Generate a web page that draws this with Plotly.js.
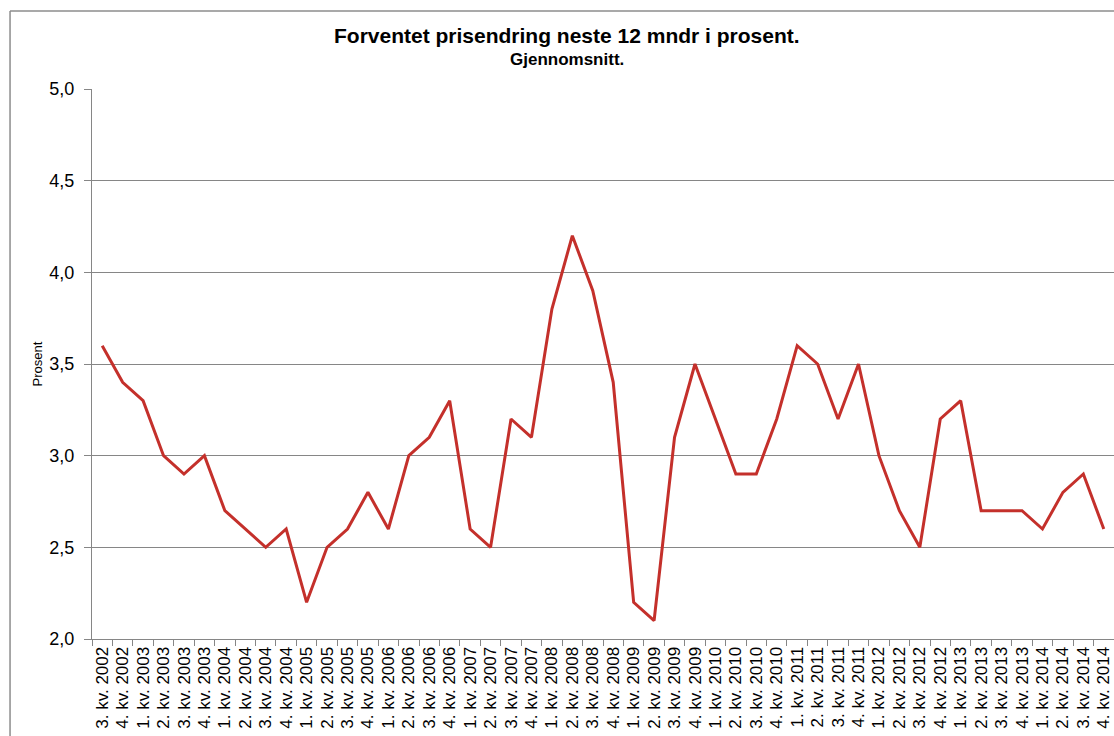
<!DOCTYPE html>
<html>
<head>
<meta charset="utf-8">
<script src="https://cdn.plot.ly/plotly-3.0.1.min.js"></script>
<style>html,body{margin:0;padding:0;background:#fff;}#chart{width:1114px;height:736px;}</style>
</head>
<body>
<div id="chart"></div>
<script>
const quarters = [
  "3. kv. 2002","4. kv. 2002",
  "1. kv. 2003","2. kv. 2003","3. kv. 2003","4. kv. 2003",
  "1. kv. 2004","2. kv. 2004","3. kv. 2004","4. kv. 2004",
  "1. kv. 2005","2. kv. 2005","3. kv. 2005","4. kv. 2005",
  "1. kv. 2006","2. kv. 2006","3. kv. 2006","4. kv. 2006",
  "1. kv. 2007","2. kv. 2007","3. kv. 2007","4. kv. 2007",
  "1. kv. 2008","2. kv. 2008","3. kv. 2008","4. kv. 2008",
  "1. kv. 2009","2. kv. 2009","3. kv. 2009","4. kv. 2009",
  "1. kv. 2010","2. kv. 2010","3. kv. 2010","4. kv. 2010",
  "1. kv. 2011","2. kv. 2011","3. kv. 2011","4. kv. 2011",
  "1. kv. 2012","2. kv. 2012","3. kv. 2012","4. kv. 2012",
  "1. kv. 2013","2. kv. 2013","3. kv. 2013","4. kv. 2013",
  "1. kv. 2014","2. kv. 2014","3. kv. 2014","4. kv. 2014"
];
const expectedChange = [
  3.6, 3.4,
  3.3, 3.0, 2.9, 3.0,
  2.7, 2.6, 2.5, 2.6,
  2.2, 2.5, 2.6, 2.8,
  2.6, 3.0, 3.1, 3.3,
  2.6, 2.5, 3.2, 3.1,
  3.8, 4.2, 3.9, 3.4,
  2.2, 2.1, 3.1, 3.5,
  3.2, 2.9, 2.9, 3.2,
  3.6, 3.5, 3.2, 3.5,
  3.0, 2.7, 2.5, 3.2,
  3.3, 2.7, 2.7, 2.7,
  2.6, 2.8, 2.9, 2.6
];
const yTicks = [2.0, 2.5, 3.0, 3.5, 4.0, 4.5, 5.0];
const titleText = 'Forventet prisendring neste 12 mndr i prosent.';
const subtitleText = 'Gjennomsnitt.';

const trace = {
  x: quarters,
  y: expectedChange,
  type: 'scatter',
  mode: 'lines',
  line: {color: '#C4302B', width: 3},
  hoverinfo: 'x+y'
};

const layout = {
  width: 1114, height: 736,
  margin: {l: 92, r: 0, t: 89, b: 97},
  paper_bgcolor: '#ffffff',
  plot_bgcolor: '#ffffff',
  separators: ', ',
  showlegend: false,
  font: {family: 'Arial, Liberation Sans, sans-serif', color: '#000000'},
  xaxis: {
    type: 'category',
    range: [-0.5, quarters.length - 0.5],
    tickangle: -90,
    tickson: 'boundaries',
    ticks: 'outside',
    ticklen: 6,
    tickcolor: '#868686',
    showline: true,
    linecolor: '#868686',
    linewidth: 1,
    showgrid: false,
    zeroline: false,
    tickfont: {size: 17, color: '#000000'},
    fixedrange: true
  },
  yaxis: {
    range: [2, 5],
    tickvals: yTicks,
    tickformat: '.1f',
    ticks: 'outside',
    ticklen: 7,
    tickcolor: '#868686',
    showline: true,
    linecolor: '#868686',
    linewidth: 1,
    showgrid: true,
    gridcolor: '#868686',
    gridwidth: 1,
    zeroline: false,
    ticklabelstandoff: 6,
    tickfont: {size: 18, color: '#000000'},
    title: {text: 'Prosent', font: {size: 13, color: '#000000'}, standoff: 3},
    fixedrange: true
  },
  annotations: [
    {text: '<b>' + titleText + '</b>', xref: 'paper', yref: 'paper', x: (567 - 92) / 1022, y: (639 - 36) / 550,
     xanchor: 'center', yanchor: 'middle', showarrow: false, font: {size: 21, color: '#000000'}},
    {text: '<b>' + subtitleText + '</b>', xref: 'paper', yref: 'paper', x: (567 - 92) / 1022, y: (639 - 59) / 550,
     xanchor: 'center', yanchor: 'middle', showarrow: false, font: {size: 17, color: '#000000'}}
  ],
  shapes: [
    {type: 'line', xref: 'paper', yref: 'paper', x0: -0.0802, x1: -0.0802, y0: 1.1418, y1: -0.4, line: {color: '#8c8c8c', width: 1.5}},
    {type: 'line', xref: 'paper', yref: 'paper', x0: -0.0802, x1: 1.2, y0: 1.1418, y1: 1.1418, line: {color: '#8c8c8c', width: 1.5}}
  ]
};

Plotly.newPlot('chart', [trace], layout, {displayModeBar: false, staticPlot: true});
</script>
</body>
</html>
